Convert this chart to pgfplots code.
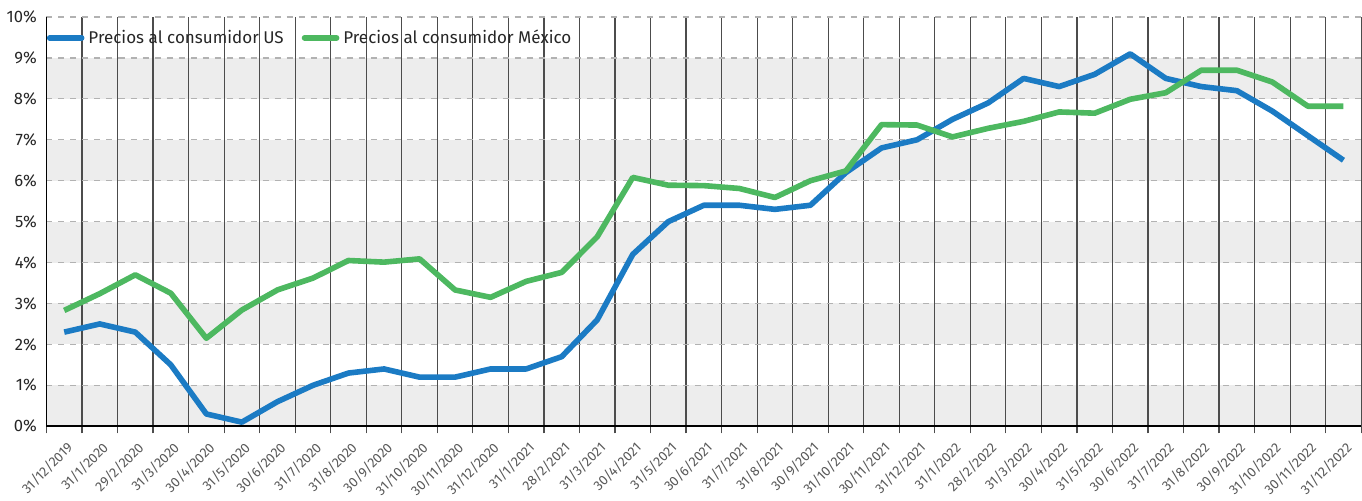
\documentclass[border=0pt]{standalone}
\usepackage{fontspec}
\setmainfont{Fira Sans}
\usepackage{pgfplots}
\pgfplotsset{compat=1.18}

\definecolor{usblue}{HTML}{1B7BC4}
\definecolor{mxgreen}{HTML}{4DB860}
\definecolor{band}{HTML}{EDEDED}
\definecolor{labgray}{HTML}{595959}

% US, Mexico (% anual)
\pgfplotstableread{
x us mx
0 2.3 2.83
1 2.5 3.24
2 2.3 3.70
3 1.5 3.25
4 0.3 2.15
5 0.1 2.84
6 0.6 3.33
7 1.0 3.62
8 1.3 4.05
9 1.4 4.01
10 1.2 4.09
11 1.2 3.33
12 1.4 3.15
13 1.4 3.54
14 1.7 3.76
15 2.6 4.63
16 4.2 6.08
17 5.0 5.89
18 5.4 5.88
19 5.4 5.81
20 5.3 5.59
21 5.4 6.00
22 6.2 6.24
23 6.8 7.37
24 7.0 7.36
25 7.5 7.07
26 7.9 7.28
27 8.5 7.45
28 8.3 7.68
29 8.6 7.65
30 9.1 7.99
31 8.5 8.15
32 8.3 8.70
33 8.2 8.70
34 7.7 8.41
35 7.1 7.82
36 6.5 7.82
}\datos

\begin{document}
\begin{tikzpicture}
\begin{axis}[
  set layers,
  scale only axis, width=657pt, height=204.5pt,
  xmin=-0.5, xmax=36.5, ymin=0, ymax=10,
  axis x line=bottom, axis y line=left,
  axis line style={-, black, line width=0.8pt},
  xtick={0,...,36},
  xticklabels={31/12/2019,31/1/2020,29/2/2020,31/3/2020,30/4/2020,31/5/2020,30/6/2020,31/7/2020,31/8/2020,30/9/2020,31/10/2020,30/11/2020,31/12/2020,31/1/2021,28/2/2021,31/3/2021,30/4/2021,31/5/2021,30/6/2021,31/7/2021,31/8/2021,30/9/2021,31/10/2021,30/11/2021,31/12/2021,31/1/2022,28/2/2022,31/3/2022,30/4/2022,31/5/2022,30/6/2022,31/7/2022,31/8/2022,30/9/2022,31/10/2022,30/11/2022,31/12/2022},
  major x tick style={draw=none},
  minor xtick={-0.5,0.5,...,36.5},
  xminorgrids, minor x grid style={black!70, line width=0.6pt},
  minor tick length=3.5pt, tick align=outside,
  minor x tick style={black!70, line width=0.6pt},
  xticklabel style={rotate=45, anchor=north east, font=\fontsize{6.8}{8}\selectfont, text=labgray, xshift=-0.5pt, yshift=-1.5pt, inner sep=1pt},
  ytick={0,...,10},
  yticklabel={\pgfmathprintnumber{\tick}\%},
  yticklabel style={font=\fontsize{8.3}{10}\selectfont, text=black!85, xshift=3pt},
  major y tick style={draw=none},
  ymajorgrids, major y grid style={dashed, black!30, line width=0.6pt},
  /pgf/number format/assume math mode=true,
  legend columns=2,
  legend style={at={(0,0.949)}, anchor=west, xshift=-1pt, draw=none, fill=none,
    font=\fontsize{8.5}{10}\selectfont, inner xsep=1pt, text=black!85,
    /tikz/every even column/.append style={column sep=7pt}},
  legend image code/.code={\draw[#1, line width=2.8pt, line cap=round] (0pt,0pt) -- (16pt,0pt);},
  after end axis/.code={\path (rel axis cs:0,1) ++(0,8.5pt);},
]
\begin{pgfonlayer}{axis background}
\fill[band] (axis cs:-0.5,0) rectangle (axis cs:36.5,1);
\fill[band] (axis cs:-0.5,2) rectangle (axis cs:36.5,3);
\fill[band] (axis cs:-0.5,4) rectangle (axis cs:36.5,5);
\fill[band] (axis cs:-0.5,6) rectangle (axis cs:36.5,7);
\fill[band] (axis cs:-0.5,8) rectangle (axis cs:36.5,9);
\end{pgfonlayer}
\addplot[usblue, line width=2.8pt, line join=round] table[x=x, y=us] {\datos};
\addlegendentry{Precios al consumidor US}
\addplot[mxgreen, line width=2.8pt, line join=round] table[x=x, y=mx] {\datos};
\addlegendentry{Precios al consumidor México}
\end{axis}
\end{tikzpicture}
\end{document}
